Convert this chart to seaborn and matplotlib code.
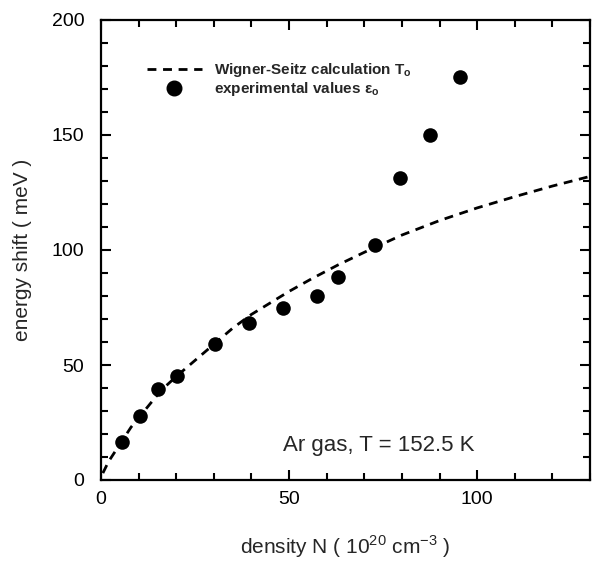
import numpy as np
import pandas as pd
import matplotlib
matplotlib.use("Agg")
import matplotlib.pyplot as plt
import seaborn as sns
from matplotlib.ticker import MultipleLocator
from matplotlib.lines import Line2D

# Wigner-Seitz calculation (dashed curve)
ws_density = [0.5, 2, 4, 6, 8, 10, 13, 16, 20, 25, 30, 35, 40, 45, 50, 56, 63, 70, 80, 90, 100, 110, 120, 130]
ws_shift = [3, 8, 13, 18, 23, 27, 33, 39, 45, 52, 59, 66, 72, 77, 82, 87.5, 93.5, 99, 106.5, 112.8, 118.3, 123.2, 127.8, 132]

# experimental values
exp_density = [5.6, 10.3, 15.2, 20.2, 30.4, 39.4, 48.5, 57.3, 63.1, 72.9, 79.5, 87.5, 95.4]
exp_shift = [16.7, 28.0, 39.4, 45.2, 59.1, 68.1, 74.6, 80.0, 88.3, 102.2, 131.2, 149.8, 175.0]

label_ws = r"Wigner-Seitz calculation T$_{\mathregular{o}}$"
label_exp = r"experimental values ε$_{\mathregular{o}}$"

sns.set_style("ticks")
plt.rcParams["font.family"] = ["Liberation Sans", "DejaVu Sans"]
plt.rcParams["mathtext.fontset"] = "custom"
plt.rcParams["mathtext.rm"] = "Liberation Sans"

fig = plt.figure(figsize=(5.93, 5.61), dpi=100)
ax = fig.add_axes([101 / 593, 1 - 480 / 561, (590 - 101) / 593, (480 - 20) / 561])

ws = pd.DataFrame({"N": ws_density, "E": ws_shift})
ex = pd.DataFrame({"N": exp_density, "E": exp_shift})

dash = (0, (3.2, 2.4))
sns.lineplot(data=ws, x="N", y="E", ax=ax, color="black", linewidth=2.0,
             linestyle=dash, sort=False)
sns.scatterplot(data=ex, x="N", y="E", ax=ax, color="black", s=110,
                edgecolor="black", linewidth=0)

ax.set_xlim(0, 130)
ax.set_ylim(0, 200)
ax.xaxis.set_major_locator(MultipleLocator(50))
ax.xaxis.set_minor_locator(MultipleLocator(10))
ax.yaxis.set_major_locator(MultipleLocator(50))
ax.yaxis.set_minor_locator(MultipleLocator(10))
ax.tick_params(which="both", direction="in", top=True, right=True, width=1.5,
               labelsize=14, colors="black")
ax.tick_params(axis="y", pad=12)
ax.tick_params(axis="x", pad=8)
ax.tick_params(which="major", length=7)
ax.tick_params(which="minor", length=5)
for sp in ax.spines.values():
    sp.set_linewidth(1.6)
    sp.set_color("black")

ax.set_xlabel(r"density N ( 10$^{\mathregular{20}}$ cm$^{\mathregular{-3}}$ )", fontsize=15, labelpad=18)
ax.set_ylabel("energy shift ( meV )", fontsize=15, labelpad=14)

ax.text(48.5, 15, "Ar gas, T = 152.5 K", fontsize=16, va="center", ha="left")

handles = [
    Line2D([], [], color="black", linewidth=2.0, linestyle=dash),
    Line2D([], [], color="black", marker="o", markersize=10.5, linestyle="none"),
]
leg = ax.legend(handles, [label_ws, label_exp], loc="upper left",
                bbox_to_anchor=(0.065, 0.94), frameon=False, handlelength=3.6,
                handletextpad=0.8, labelspacing=0.05,
                prop={"weight": "bold", "size": 11})

fig.savefig("out.png", dpi=100)
